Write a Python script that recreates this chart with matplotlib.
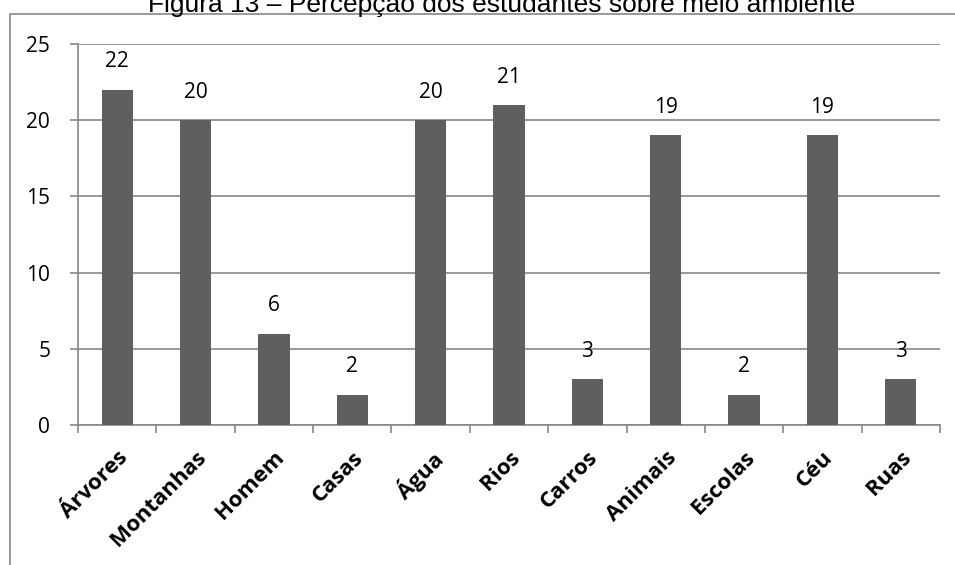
import numpy as np
import matplotlib.pyplot as plt
from matplotlib.patches import Rectangle
from matplotlib.transforms import ScaledTranslation

# dados da figura
categorias = ['Árvores', 'Montanhas', 'Homem', 'Casas', 'Água', 'Rios',
              'Carros', 'Animais', 'Escolas', 'Céu', 'Ruas']
valores = [22, 20, 6, 2, 20, 21, 3, 19, 2, 19, 3]
yticks = [0, 5, 10, 15, 20, 25]
titulo = 'Figura 13 – Percepção dos estudantes sobre meio ambiente'

W, H = 955, 565
cor_barra = '#5f5f5f'
cor_linha = '#888888'

fig = plt.figure(figsize=(W / 100, H / 100), dpi=100)
ax = fig.add_axes([78 / W, 1 - 425 / H, 862 / W, 381 / H])

x = np.arange(len(categorias))
ax.bar(x, valores, width=0.4, color=cor_barra, zorder=3)

for xi, v in zip(x, valores):
    ax.annotate(str(v), (xi, v), xytext=(0, 20), textcoords='offset points',
                ha='center', va='center', fontsize=15, family='Open Sans')

ax.set_xlim(-0.5, len(categorias) - 0.5)
ax.set_ylim(0, 25)
ax.set_yticks(yticks)
ax.set_yticklabels([str(t) for t in yticks], fontsize=15, family='Open Sans')
ax.yaxis.grid(True, color=cor_linha, lw=1.2, zorder=0)

# ticks nos limites das categorias, rótulos no centro
ax.set_xticks(np.arange(len(categorias) + 1) - 0.5)
ax.set_xticklabels([])
ax.set_xticks(x, minor=True)
labels = ax.set_xticklabels(categorias, minor=True, rotation=45, ha='right',
                            rotation_mode='anchor', fontsize=16,
                            fontweight='bold', family='Open Sans')
desloc = ScaledTranslation(-4 / 100, 0, fig.dpi_scale_trans)
for lb in labels:
    lb.set_transform(lb.get_transform() + desloc)
ax.tick_params(axis='x', which='major', length=6, color=cor_linha, width=1.2)
ax.tick_params(axis='x', which='minor', length=0, pad=16)
ax.tick_params(axis='y', length=6, color=cor_linha, width=1.2, pad=14)

for s in ['top', 'right']:
    ax.spines[s].set_visible(False)
for s in ['left', 'bottom']:
    ax.spines[s].set_color(cor_linha)
    ax.spines[s].set_linewidth(1.2)

# moldura do gráfico
fig.patches.append(Rectangle((10 / W, -0.1), 1.2, 1.1 - 14 / H,
                             transform=fig.transFigure, fill=False,
                             edgecolor=cor_linha, lw=1.2))

fig.text(0.5 + 24 / W, 1 - 12 / H, titulo, ha='center', va='baseline',
         fontsize=19, family='Liberation Sans')

fig.savefig('out.png', dpi=100)
